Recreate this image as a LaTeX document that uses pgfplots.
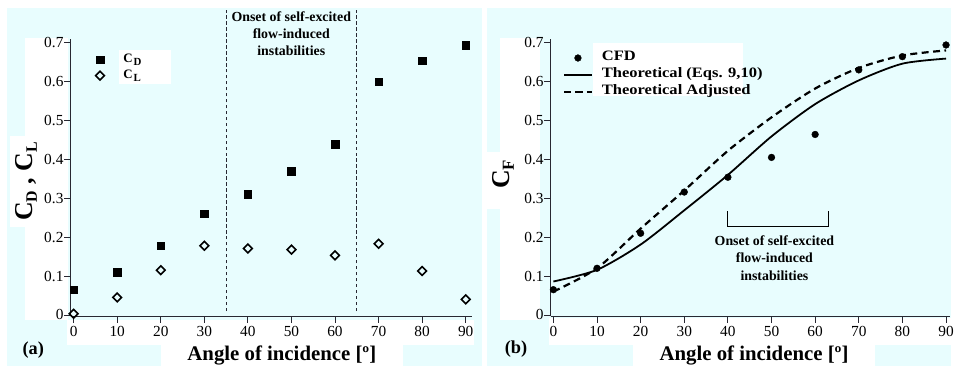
\documentclass[border=0pt]{standalone}
\usepackage{fontspec}
\setmainfont{Liberation Serif}
\usepackage{graphicx}
\usepackage{pgfplots}
\pgfplotsset{compat=1.18}
\definecolor{bgc}{RGB}{232,253,254}
\definecolor{axc}{RGB}{40,40,50}
\pgfplotsset{
  panel/.style={
    scale only axis, anchor=south west,
    width=404bp, height=279bp,
    xmin=-0.7, xmax=91.5, ymin=-0.003, ymax=0.71,
    axis lines=left,
    axis line style={-, line width=0.8bp, color=axc},
    tick style={line width=0.8bp, color=axc},
    tick align=outside, major tick length=6.5bp,
    xtick={0,10,...,90}, ytick={0,0.1,0.2,0.3,0.4,0.5,0.6,0.7},
    yticklabels={0,0.1,0.2,0.3,0.4,0.5,0.6,0.7},
    /pgf/number format/assume math mode=true,
    tick label style={font=\fontsize{15.5}{18}\selectfont},
    yticklabel style={inner xsep=0.5bp},
    clip=false,
  }
}
\begin{document}
\begin{tikzpicture}[x=1bp,y=1bp]
\path (0,0) rectangle (957,369);
% backgrounds
\fill[bgc] (7,1) rectangle (485,361);
\fill[bgc] (490,1) rectangle (957,361);
% white patches (left)
\fill[white] (25,47) rectangle (68,331);
\fill[white] (10,141) rectangle (35,232);
\fill[white] (67,22) rectangle (477,47);
\fill[white] (162,1) rectangle (405,22);
\fill[white] (120,285) rectangle (172,319);
% white patches (right)
\fill[white] (503,47) rectangle (543,331);
\fill[white] (490,159) rectangle (517,216);
\fill[white] (552,22) rectangle (957,49);
\fill[white] (637,1) rectangle (880,22);
\fill[white] (597,272) rectangle (747,326);

% ---------- panel (a)
\begin{axis}[panel, at={(71bp,51bp)},
  legend style={at={(rel axis cs:0.062,0.952)}, anchor=north west, draw=none, fill=none,
    font=\fontsize{13}{15}\selectfont\bfseries, inner sep=0pt, column sep=19bp, row sep=1bp,
    nodes={inner sep=0pt, text height=10bp, text depth=5bp}},
  legend cell align=left,
  legend image code/.code={\draw[mark repeat=2,mark phase=2,#1] plot coordinates {(0bp,0bp)(8bp,0bp)(16bp,0bp)};}]
\addplot[only marks, mark=square*, mark size=3.8bp, black] coordinates {
(0,0.065)(10,0.11)(20,0.178)(30,0.26)(40,0.31)(50,0.37)(60,0.439)(70,0.600)(80,0.654)(90,0.693)};
\addlegendentry{C\hspace{1bp}\raisebox{-3bp}{\fontsize{11}{12}\selectfont D}}
\addplot[only marks, mark=square, mark size=3.1bp, black, mark options={rotate=45, line width=1.6bp}] coordinates {
(0,0.003)(10,0.045)(20,0.115)(30,0.178)(40,0.171)(50,0.168)(60,0.153)(70,0.183)(80,0.113)(90,0.04)};
\addlegendentry{C\hspace{1bp}\raisebox{-3bp}{\fontsize{11}{12}\selectfont L}}
\draw[axc, line width=0.9bp, dash pattern=on 3.5bp off 2.5bp] (axis cs:35,0.01) -- (axis cs:35,0.784);
\draw[axc, line width=0.9bp, dash pattern=on 3.5bp off 2.5bp] (axis cs:65,0.01) -- (axis cs:65,0.784);
\end{axis}

% ---------- panel (b)
\begin{axis}[panel, at={(554bp,51bp)}, width=402bp, xmin=-0.6, xmax=91,
  legend style={at={(rel axis cs:0.030,0.96)}, anchor=north west, draw=none, fill=none,
    font=\fontsize{14.5}{16}\selectfont\bfseries, inner sep=0pt, column sep=9bp, row sep=1bp,
    nodes={inner sep=0pt, text height=11bp, text depth=5bp}},
  legend cell align=left,
  legend image code/.code={\draw[mark repeat=2,mark phase=2,#1] plot coordinates {(0bp,0bp)(14bp,0bp)(28bp,0bp)};}]
\addplot[only marks, mark=*, mark size=3.4bp, black] coordinates {
(0,0.065)(10,0.12)(20,0.21)(30,0.316)(40,0.354)(50,0.405)(60,0.464)(70,0.630)(80,0.664)(90,0.694)};
\addlegendentry{\scalebox{1.15}[1]{CFD}}
\addplot[black, line width=1.8bp, smooth, tension=0.45] coordinates {
(0,0.086)(10,0.116)(20,0.181)(30,0.269)(40,0.36)(50,0.459)(60,0.542)(70,0.603)(80,0.646)(90,0.659)};
\addlegendentry{\scalebox{1.15}[1]{Theoretical (Eqs. 9,10)}}
\addplot[black, line width=2.2bp, dash pattern=on 7bp off 4.5bp, smooth, tension=0.45] coordinates {
(0,0.06)(10,0.12)(20,0.222)(30,0.32)(40,0.422)(50,0.508)(60,0.582)(70,0.635)(80,0.667)(90,0.680)};
\addlegendentry{\scalebox{1.15}[1]{Theoretical Adjusted}}
\draw[black, line width=0.9bp] (axis cs:40,0.266) -- (axis cs:40,0.227) -- (axis cs:63,0.227) -- (axis cs:63,0.266);
\end{axis}

% ---------- texts
\begin{scope}[every node/.style={inner sep=0pt}]
\node[anchor=base, font=\fontsize{14}{16}\selectfont\bfseries] at (293,347) {Onset of self-excited};
\node[anchor=base, font=\fontsize{14}{16}\selectfont\bfseries] at (293,330) {flow-induced};
\node[anchor=base, font=\fontsize{14}{16}\selectfont\bfseries] at (293,313) {instabilities};
\node[anchor=base, font=\fontsize{14}{16}\selectfont\bfseries] at (779,122) {Onset of self-excited};
\node[anchor=base, font=\fontsize{14}{16}\selectfont\bfseries] at (779,105) {flow-induced};
\node[anchor=base, font=\fontsize{14}{16}\selectfont\bfseries] at (779,87) {instabilities};
\node[anchor=base, font=\fontsize{18.5}{20}\selectfont\bfseries] at (33.5,12) {(a)};
\node[anchor=base, font=\fontsize{18.5}{20}\selectfont\bfseries] at (519,13) {(b)};
\node[anchor=base, font=\fontsize{21}{24}\selectfont\bfseries] at (283.5,6.5) {Angle of incidence [º]};
\node[anchor=base, font=\fontsize{21}{24}\selectfont\bfseries] at (758.5,6.5) {Angle of incidence [º]};
\node[anchor=base, rotate=90, font=\fontsize{26}{28}\selectfont\bfseries] at (33,186.5)
  {C\raisebox{-4bp}{\fontsize{16}{17}\selectfont D} , C\raisebox{-4bp}{\fontsize{16}{17}\selectfont L}};
\node[anchor=base, rotate=90, font=\fontsize{26}{28}\selectfont\bfseries] at (513,193.5)
  {C\raisebox{-4bp}{\fontsize{17}{17}\selectfont F}};
\end{scope}
\end{tikzpicture}
\end{document}
